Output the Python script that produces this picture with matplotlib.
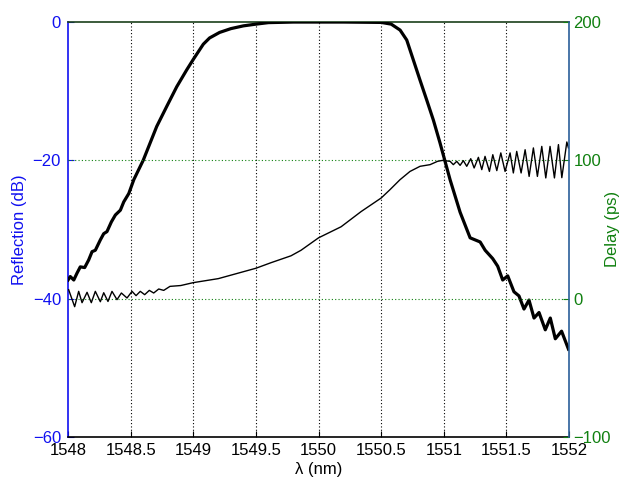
import matplotlib
matplotlib.use("Agg")
import matplotlib.pyplot as plt

plt.rcParams["font.family"] = ["Liberation Sans", "DejaVu Sans"]

BLUE = "#1010f0"; GREEN = "#108010"; INK = "black"

# reflection spectrum (thick line, left axis)
refl_nm = [1548.0, 1548.018, 1548.046, 1548.072, 1548.098, 1548.133, 1548.165, 1548.192,
           1548.218, 1548.258, 1548.285, 1548.311, 1548.346, 1548.378, 1548.418, 1548.445,
           1548.485, 1548.525, 1548.6, 1548.708, 1548.788, 1548.868, 1548.948, 1549.0,
           1549.04, 1549.08, 1549.13, 1549.21, 1549.3, 1549.4, 1549.5, 1549.6,
           1549.8, 1550.2, 1550.5, 1550.58, 1550.651, 1550.704, 1550.757, 1550.81,
           1550.864, 1550.917, 1550.97, 1551.05, 1551.13, 1551.21, 1551.29, 1551.33,
           1551.39, 1551.43, 1551.47, 1551.51, 1551.56, 1551.6, 1551.64, 1551.68,
           1551.72, 1551.76, 1551.81, 1551.85, 1551.89, 1551.94, 1551.995]
refl_db = [-37.3, -36.8, -37.3, -36.3, -35.4, -35.5, -34.4, -33.2,
           -33.0, -31.5, -30.6, -30.3, -28.9, -27.9, -27.2, -26.0,
           -24.8, -22.8, -20.0, -15.1, -12.2, -9.35, -6.9, -5.4,
           -4.3, -3.2, -2.3, -1.5, -0.95, -0.55, -0.3, -0.08,
           0.0, 0.0, -0.05, -0.3, -1.16, -2.6, -5.5, -8.4,
           -11.3, -14.2, -17.5, -22.8, -27.5, -31.2, -31.8, -33.0,
           -34.2, -35.3, -37.3, -36.7, -39.0, -39.6, -41.5, -40.2,
           -42.8, -42.0, -44.5, -42.8, -45.8, -44.7, -47.3]

# group delay (thin line, right axis)
delay_nm = [1548.005, 1548.053, 1548.085, 1548.112, 1548.152, 1548.186, 1548.218, 1548.258,
            1548.285, 1548.319, 1548.351, 1548.391, 1548.426, 1548.471, 1548.511, 1548.543,
            1548.577, 1548.612, 1548.649, 1548.684, 1548.724, 1548.764, 1548.814, 1548.9,
            1549.0, 1549.2, 1549.5, 1549.62, 1549.78, 1549.86, 1550.0, 1550.18,
            1550.34, 1550.5, 1550.57, 1550.65, 1550.73, 1550.81, 1550.89, 1550.95,
            1550.99, 1551.05, 1551.076, 1551.103, 1551.13, 1551.156, 1551.183, 1551.215,
            1551.242, 1551.276, 1551.303, 1551.329, 1551.364, 1551.391, 1551.423, 1551.455,
            1551.489, 1551.529, 1551.555, 1551.582, 1551.617, 1551.649, 1551.681, 1551.715,
            1551.747, 1551.782, 1551.814, 1551.848, 1551.883, 1551.915, 1551.942, 1551.982,
            1551.995]
delay_ps = [6.5, -5.8, 5.3, -2.9, 4.6, -2.9, 5.3, -2.2,
            4.3, -2.0, 5.3, -0.7, 4.1, 0.5, 5.3, 2.2,
            5.3, 2.9, 6.0, 4.1, 7.0, 6.0, 8.9, 9.5,
            11.6, 14.5, 22.0, 26.0, 31.0, 35.0, 44.0, 52.0,
            63.0, 72.8, 78.8, 86.0, 92.0, 95.7, 96.9, 99.3,
            100.0, 99.3, 96.9, 99.3, 96.4, 99.8, 95.7, 101.2,
            94.5, 102.2, 93.3, 102.9, 92.0, 104.1, 92.6, 105.4,
            92.0, 105.4, 90.9, 106.5, 90.9, 107.7, 88.4, 109.0,
            88.4, 110.1, 87.3, 110.1, 87.3, 111.4, 87.5, 113.3,
            109.0]

x_ticks = [1548, 1548.5, 1549, 1549.5, 1550, 1550.5, 1551, 1551.5, 1552]
x_labels = ["1548", "1548.5", "1549", "1549.5", "1550", "1550.5", "1551", "1551.5", "1552"]
refl_ticks = [-60, -40, -20, 0]
delay_ticks = [-100, 0, 100, 200]

fig = plt.figure(figsize=(6.24, 4.87), dpi=100)
ax = fig.add_axes([0.109, 0.1027, 0.803, 0.852])
ax2 = ax.twinx()

ax.plot(refl_nm, refl_db, color=INK, lw=2.3, zorder=3, solid_joinstyle="round")
ax2.plot(delay_nm, delay_ps, color=INK, lw=1.0, zorder=2, solid_joinstyle="round")

ax.set_xlim(1548, 1552); ax.set_ylim(-60, 0)
ax2.set_ylim(-100, 200)
ax.set_xticks(x_ticks); ax.set_xticklabels(x_labels)
ax.set_yticks(refl_ticks)
ax2.set_yticks(delay_ticks)

for t in x_ticks[1:-1]:
    ax.axvline(t, color=INK, lw=0.8, ls=(0, (1, 2)), zorder=1)
for t in [0, 100]:
    ax2.axhline(t, color=GREEN, lw=0.8, ls=(0, (1, 2)), zorder=1)

ax.tick_params(axis="x", direction="in", length=4, labelsize=12, colors=INK, pad=4, top=False)
ax.tick_params(axis="y", direction="in", length=4, labelsize=12, colors=BLUE, pad=5)
ax2.tick_params(axis="y", direction="in", length=4, labelsize=12, colors=GREEN, pad=3)

ax.spines["left"].set_color(BLUE)
ax.spines["bottom"].set_color(INK)
ax.spines["top"].set_color("#1a401a")
ax.spines["right"].set_visible(False)
ax2.spines["left"].set_visible(False)
ax2.spines["bottom"].set_visible(False)
ax2.spines["top"].set_visible(False)
ax2.spines["right"].set_color("#2a5f9a")
for s in ax.spines.values():
    s.set_linewidth(1.2)
ax2.spines["right"].set_linewidth(1.2)

ax.set_ylabel("Reflection (dB)", color=BLUE, fontsize=12, labelpad=4)
fig.text(0.982, 0.53, "Delay (ps)", color=GREEN, fontsize=12, rotation=90,
         ha="center", va="center")
ax.set_xlabel("λ (nm)", color=INK, fontsize=12, labelpad=3)

fig.savefig("out.png", dpi=100, facecolor="white")
